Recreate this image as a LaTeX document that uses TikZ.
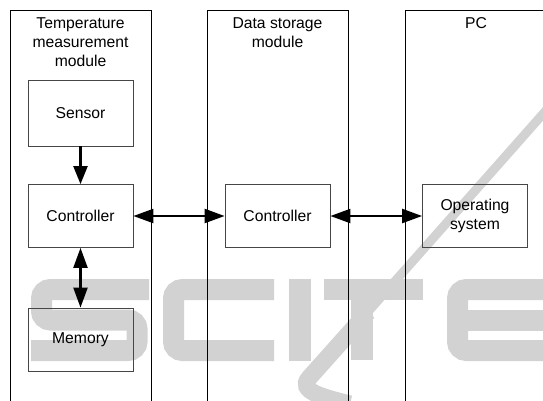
\documentclass[tikz,border=0pt]{standalone}
\usepackage{fontspec}
\setmainfont{Liberation Sans}
\usetikzlibrary{arrows.meta}
\definecolor{wmgray}{RGB}{210,210,210}
\definecolor{boxline}{RGB}{70,70,70}
\begin{document}
\begin{tikzpicture}[x=1pt,y=-1pt,
  module/.style={draw=black, line width=0.8pt, minimum width=141pt, minimum height=430pt, anchor=north, inner sep=0pt},
  unit/.style={draw=boxline, line width=0.8pt, minimum width=105pt, minimum height=63pt, inner sep=0pt, align=center, font=\fontsize{15.7}{19}\selectfont},
  title/.style={anchor=north, inner sep=0pt, align=center, font=\fontsize{15.7}{19}\selectfont},
  link/.style={line width=2.2pt, {Triangle[length=20pt,width=14pt]}-{Triangle[length=20pt,width=14pt]}},
  flow/.style={line width=2.2pt, -{Triangle[length=18pt,width=14pt]}},
  wmstroke/.style={draw=wmgray, line width=21pt, rounded corners=9pt},
]
\useasboundingbox (0,0) rectangle (543,400);
\clip (0,0) rectangle (543,400);

% light grey logo lettering in the background
\draw[wmstroke] (149,289.5) -- (41.5,289.5) -- (41.5,320) -- (137,320) -- (137,350.5) -- (31,350.5);
\draw[wmstroke] (274,289.5) -- (173.5,289.5) -- (173.5,350.5) -- (274,350.5);
\fill[wmgray] (289,279) rectangle (311,361);
\fill[wmgray] (324,279) rectangle (423,300);
\fill[wmgray] (351,300) rectangle (373,360);
\draw[draw=wmgray, line width=9pt] (550,106) -- (366,314);
\draw[draw=wmgray, line width=17pt] (368,312) -- (309,378) .. controls (298,391) and (322,397) .. (350,404);
\draw[wmstroke] (570,289.5) -- (457.5,289.5) -- (457.5,350.5) -- (570,350.5);
\draw[wmstroke, rounded corners=0pt] (457.5,320) -- (570,320);

% module frames (open towards the bottom)
\node[module] (tmod) at (80.5,10) {};
\node[module] (dmod) at (277.5,10) {};
\node[module, minimum width=200pt] (pcmod) at (505,10) {};

\node[title] (ttitle) at ([yshift=-7.2pt]tmod.north) {Temperature\\measurement\\module};
\node[title] (dtitle) at ([yshift=-7.2pt]dmod.north) {Data storage\\module};
\node[title] (pctitle) at ([yshift=-7.2pt]476,10) {PC};

% functional units
\node[unit, minimum height=66pt] (sensor) at (80.5,113) {Sensor};
\node[unit] (ctrlA) at (80.5,216) {Controller};
\node[unit] (memory) at (80.5,339.5) {Memory};
\node[unit] (ctrlB) at (277.5,216) {Controller};
\node[unit] (os) at (475,216) {Operating\\system};

% data paths
\draw[flow] (sensor) -- (ctrlA);
\draw[link] (ctrlA) -- (memory);
\draw[link] (ctrlA) -- (ctrlB);
\draw[link] (ctrlB) -- (os);
\end{tikzpicture}
\end{document}
